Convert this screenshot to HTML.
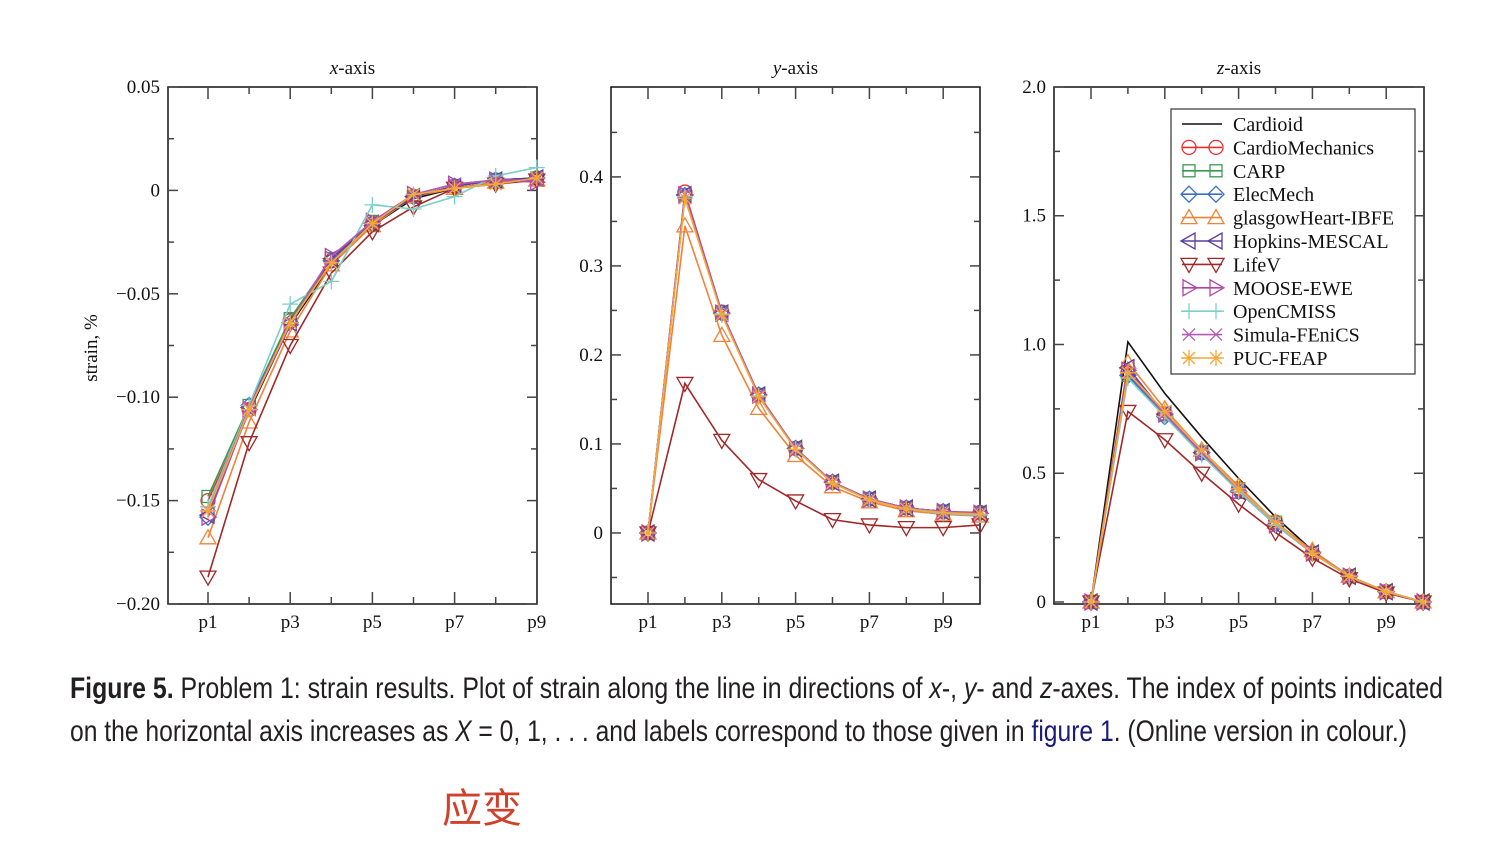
<!DOCTYPE html>
<html><head><meta charset="utf-8"><style>
body{margin:0;background:#fff;width:1506px;height:850px;overflow:hidden}
svg{display:block}
</style></head><body>
<svg id="fig" width="1506" height="850" xmlns="http://www.w3.org/2000/svg" font-family="'Liberation Serif', serif">
<g id="plots"></g>
<g font-family="'Liberation Sans','DejaVu Sans',sans-serif" font-size="30" fill="#231f20">
<text x="70" y="698" textLength="1373" lengthAdjust="spacingAndGlyphs"><tspan font-weight="bold">Figure 5.</tspan> Problem 1: strain results. Plot of strain along the line in directions of <tspan font-style="italic">x</tspan>-, <tspan font-style="italic">y</tspan>- and <tspan font-style="italic">z</tspan>-axes. The index of points indicated</text>
<text x="70" y="741" textLength="1337" lengthAdjust="spacingAndGlyphs">on the horizontal axis increases as <tspan font-style="italic">X</tspan> = 0, 1, . . .  and labels correspond to those given in <tspan fill="#1a1a7a">figure 1</tspan>. (Online version in colour.)</text>
</g>
<text x="442" y="822" font-family="'Liberation Sans','Noto Sans CJK SC',sans-serif" font-size="40" fill="#d0402a">应变</text>
</svg>
<script>
const seriesNames=["Cardioid","CardioMechanics","CARP","ElecMech","glasgowHeart-IBFE","Hopkins-MESCAL","LifeV","MOOSE-EWE","OpenCMISS","Simula-FEniCS","PUC-FEAP"];
const seriesColors=["#111","#e8312f","#3a9a50","#3b6fc4","#f0833a","#5b3e9c","#a02828","#b044a8","#7ccfc8","#b05cb0","#f4a83a"];
const seriesMarkers=["none","circle","square","diamond","tri-up","tri-left","tri-down","tri-right","plus","cross","star"];
const xCats9=["p1","p2","p3","p4","p5","p6","p7","p8","p9"];
const xCats10=["p1","p2","p3","p4","p5","p6","p7","p8","p9","p10"];
// x-axis strain
const xAxisData=[
[-0.153,-0.107,-0.065,-0.036,-0.017,-0.004,0.001,0.004,0.006],
[-0.150,-0.106,-0.063,-0.034,-0.016,-0.003,0.002,0.005,0.006],
[-0.148,-0.104,-0.062,-0.033,-0.015,-0.003,0.002,0.005,0.006],
[-0.158,-0.104,-0.064,-0.034,-0.016,-0.003,0.002,0.005,0.006],
[-0.168,-0.112,-0.068,-0.036,-0.017,-0.003,0.001,0.004,0.005],
[-0.157,-0.105,-0.064,-0.033,-0.016,-0.003,0.002,0.005,0.006],
[-0.187,-0.122,-0.075,-0.040,-0.020,-0.008,0.001,0.003,0.005],
[-0.158,-0.106,-0.065,-0.032,-0.015,-0.002,0.003,0.005,0.004],
[-0.153,-0.104,-0.055,-0.044,-0.007,-0.009,-0.003,0.007,0.011],
[-0.155,-0.105,-0.064,-0.032,-0.015,-0.002,0.003,0.005,0.005],
[-0.155,-0.106,-0.064,-0.035,-0.016,-0.002,0.001,0.003,0.006]];
// y-axis strain
const yAxisData=[
[0,0.378,0.246,0.154,0.094,0.057,0.038,0.028,0.024,0.022],
[0,0.383,0.248,0.155,0.095,0.057,0.038,0.028,0.024,0.023],
[0,0.380,0.247,0.155,0.095,0.057,0.038,0.028,0.024,0.022],
[0,0.379,0.247,0.155,0.095,0.057,0.038,0.028,0.024,0.022],
[0,0.345,0.222,0.140,0.087,0.052,0.035,0.025,0.021,0.019],
[0,0.380,0.247,0.155,0.095,0.057,0.038,0.028,0.024,0.022],
[0,0.168,0.104,0.060,0.036,0.015,0.009,0.006,0.006,0.009],
[0,0.380,0.247,0.155,0.095,0.057,0.038,0.028,0.024,0.022],
[0,0.378,0.246,0.154,0.094,0.056,0.037,0.027,0.022,0.020],
[0,0.380,0.247,0.155,0.095,0.057,0.038,0.028,0.024,0.022],
[0,0.376,0.245,0.153,0.094,0.056,0.037,0.027,0.023,0.021]];
// z-axis strain
const zAxisData=[
[0,1.01,0.81,0.64,0.48,0.33,0.20,0.10,0.04,0],
[0,0.89,0.73,0.58,0.44,0.31,0.19,0.10,0.04,0],
[0,0.88,0.73,0.58,0.44,0.31,0.19,0.10,0.04,0],
[0,0.88,0.72,0.58,0.43,0.30,0.19,0.10,0.04,0],
[0,0.93,0.75,0.59,0.45,0.31,0.20,0.10,0.04,0],
[0,0.91,0.73,0.58,0.43,0.30,0.19,0.10,0.04,0],
[0,0.74,0.63,0.50,0.38,0.27,0.17,0.09,0.035,0],
[0,0.90,0.73,0.58,0.43,0.30,0.19,0.10,0.04,0],
[0,0.87,0.72,0.57,0.43,0.30,0.19,0.10,0.04,0],
[0,0.89,0.73,0.58,0.44,0.31,0.19,0.10,0.04,0],
[0,0.89,0.74,0.59,0.44,0.31,0.19,0.10,0.04,0]];
const yTicks1=[-0.20,-0.15,-0.10,-0.05,0,0.05];
const yTickLabels1=["\u22120.20","\u22120.15","\u22120.10","\u22120.05","0","0.05"];
const yTicks2=[0,0.1,0.2,0.3,0.4];
const yTickLabels2=["0","0.1","0.2","0.3","0.4"];
const yTicks3=[0,0.5,1.0,1.5,2.0];
const yTickLabels3=["0","0.5","1.0","1.5","2.0"];

const NS="http://www.w3.org/2000/svg";
const root=document.getElementById('plots');
function mk(tag,attrs,parent){const e=document.createElementNS(NS,tag);for(const k in attrs)e.setAttribute(k,attrs[k]);(parent||root).appendChild(e);return e;}

function marker(g,type,cx,cy,color){
  const r=7,a={fill:"none",stroke:color,"stroke-width":1.3};
  let e;
  if(type==="circle")e=mk('circle',Object.assign({cx,cy,r},a),g);
  else if(type==="square")e=mk('rect',Object.assign({x:cx-6,y:cy-6,width:12,height:12},a),g);
  else if(type==="diamond")e=mk('polygon',Object.assign({points:`${cx},${cy-8} ${cx+8},${cy} ${cx},${cy+8} ${cx-8},${cy}`},a),g);
  else if(type==="tri-up")e=mk('polygon',Object.assign({points:`${cx},${cy-8} ${cx+8},${cy+6} ${cx-8},${cy+6}`},a),g);
  else if(type==="tri-down")e=mk('polygon',Object.assign({points:`${cx},${cy+8} ${cx+8},${cy-6} ${cx-8},${cy-6}`},a),g);
  else if(type==="tri-left")e=mk('polygon',Object.assign({points:`${cx-8},${cy} ${cx+6},${cy-8} ${cx+6},${cy+8}`},a),g);
  else if(type==="tri-right")e=mk('polygon',Object.assign({points:`${cx+8},${cy} ${cx-6},${cy-8} ${cx-6},${cy+8}`},a),g);
  else if(type==="plus")e=mk('path',Object.assign({d:`M${cx-8} ${cy}H${cx+8}M${cx} ${cy-8}V${cy+8}`},a),g);
  else if(type==="cross")e=mk('path',Object.assign({d:`M${cx-6} ${cy-6}L${cx+6} ${cy+6}M${cx-6} ${cy+6}L${cx+6} ${cy-6}`},a),g);
  else if(type==="star")e=mk('path',Object.assign({d:`M${cx-8} ${cy}H${cx+8}M${cx} ${cy-8}V${cy+8}M${cx-6} ${cy-6}L${cx+6} ${cy+6}M${cx-6} ${cy+6}L${cx+6} ${cy-6}`},a),g);
  if(e){}
}

function panel(cfg){
  const {name,left,right,top,bottom,x0,dx,ymin,ymax,data,cats,ticks,tickLabels,minor,title,nXTicks}=cfg;
  const g=mk('g',{});
  
  
  const X=i=>x0+i*dx;
  const Y=v=>bottom-(v-ymin)/(ymax-ymin)*(bottom-top);
  const fr=mk('rect',{x:left,y:top,width:right-left,height:bottom-top,fill:"none",stroke:"#111","stroke-width":1.5},g);
  
  for(let v=ymin;v<=ymax+1e-9;v+=minor){
    const vv=Math.round(v/minor)*minor;
    const isMaj=ticks.some(t=>Math.abs(t-vv)<1e-9);
    const L=isMaj?10:6,y=Y(vv);
    if(y<top-0.5||y>bottom+0.5)continue;
    mk('line',{x1:left,x2:left+L,y1:y,y2:y,stroke:"#444","stroke-width":1.5},g);
    mk('line',{x1:right-L,x2:right,y1:y,y2:y,stroke:"#444","stroke-width":1.5},g);
  }
  ticks.forEach((t,i)=>{
    const tx=mk('text',{x:left-8,y:Y(t)+6,"text-anchor":"end","font-size":19,fill:"#111"},g);
    tx.textContent=tickLabels[i];
    
  });
  for(let i=0;i<nXTicks;i++){
    const x=X(i),L=(i%2===0)?12:7;
    if(x>right+2)continue;
    if(x<right-1){
      mk('line',{x1:x,x2:x,y1:bottom,y2:bottom-L,stroke:"#444","stroke-width":1.5},g);
      mk('line',{x1:x,x2:x,y1:top,y2:top+L,stroke:"#444","stroke-width":1.5},g);
    }
    if(i%2===0){
      const tx=mk('text',{x:x,y:bottom+24,"text-anchor":"middle","font-size":19,fill:"#111"},g);
      tx.textContent=cats[i];
      
    }
  }
  const tt=mk('text',{x:(left+right)/2,y:top-13,"text-anchor":"middle","font-size":19,fill:"#111"},g);
  tt.innerHTML=`<tspan font-style="italic">${title}</tspan>-axis`;
  
  data.forEach((s,k)=>{
    const sg=mk('g',{},g);
    
    
    const pts=s.map((v,i)=>`${X(i)},${Y(v)}`).join(' ');
    mk('polyline',{points:pts,fill:"none",stroke:seriesColors[k],"stroke-width":1.6},sg);
    s.forEach((v,i)=>marker(sg,seriesMarkers[k],X(i),Y(v),seriesColors[k]));
  });
  return g;
}

panel({name:'x-axis-panel',left:168,right:537,top:87,bottom:604,x0:208,dx:41.1,ymin:-0.20,ymax:0.05,data:xAxisData,cats:xCats9,ticks:yTicks1,tickLabels:yTickLabels1,minor:0.025,title:'x',nXTicks:9});
panel({name:'y-axis-panel',left:611,right:980,top:87,bottom:604,x0:648,dx:36.9,ymin:-0.0798,ymax:0.501,data:yAxisData,cats:xCats10,ticks:yTicks2,tickLabels:yTickLabels2,minor:0.05,title:'y',nXTicks:10});
panel({name:'z-axis-panel',left:1054,right:1424,top:87,bottom:604,x0:1091,dx:36.9,ymin:-0.0078,ymax:2.0,data:zAxisData,cats:xCats10,ticks:yTicks3,tickLabels:yTickLabels3,minor:0.25,title:'z',nXTicks:10});

const yl=mk('text',{x:0,y:0,transform:"translate(97,348) rotate(-90)","text-anchor":"middle","font-size":19,fill:"#111"});
yl.textContent="strain, %";


const lg=mk('g',{});


mk('rect',{x:1171,y:109,width:244,height:265,fill:"#fff",stroke:"#333","stroke-width":1.2},lg);
seriesNames.forEach((n,k)=>{
  const y=124+k*23.4;
  const eg=mk('g',{},lg);
  
  
  mk('line',{x1:1182,x2:1222,y1:y,y2:y,stroke:seriesColors[k],"stroke-width":1.6},eg);
  marker(eg,seriesMarkers[k],1189,y,seriesColors[k]);
  marker(eg,seriesMarkers[k],1216,y,seriesColors[k]);
  const t=mk('text',{x:1233,y:y+7,"font-size":20,fill:"#111"},eg);
  t.textContent=n;
});
</script>
</body></html>
